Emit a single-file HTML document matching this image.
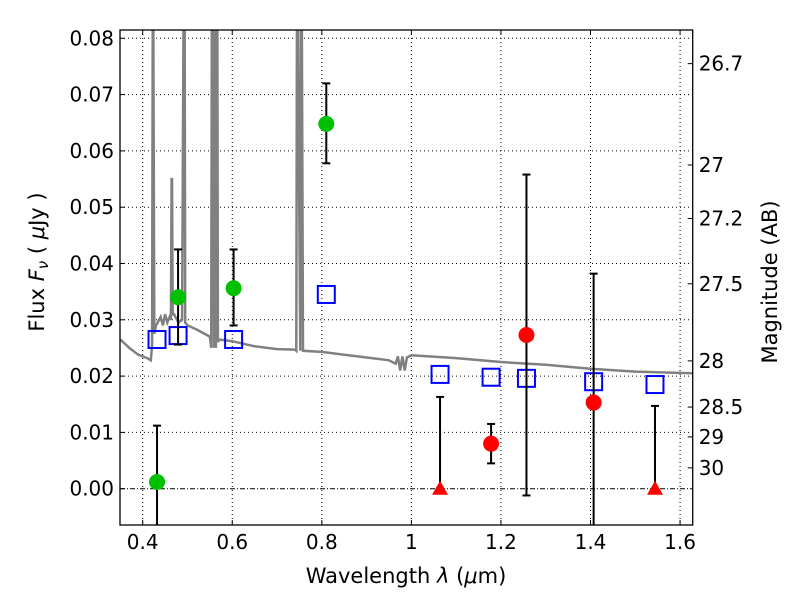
<!DOCTYPE html>
<html><head><meta charset="utf-8"><style>
body{margin:0;background:#fff}
svg{display:block;font-family:"DejaVu Sans","Liberation Sans",sans-serif}
</style></head><body>
<svg id="chart" width="800" height="600" viewBox="0 0 800 600">
<g id="grid"></g>
<g id="spec"></g>
<g id="marks"></g>
<g id="axes"></g>
</svg>
<script>
const xTicks=[0.4,0.6,0.8,1.0,1.2,1.4,1.6];
const xTickLabels=["0.4","0.6","0.8","1","1.2","1.4","1.6"];
const yTicks=[0,0.01,0.02,0.03,0.04,0.05,0.06,0.07,0.08];
const yTickLabels=["0.00","0.01","0.02","0.03","0.04","0.05","0.06","0.07","0.08"];
const magTicks=[26.7,27,27.2,27.5,28,28.5,29,30];
const magTickFlux=[0.0755,0.0575,0.048,0.0364,0.0227,0.0145,0.0092,0.0037];
const greenWl=[0.432,0.479,0.603,0.81];
const greenFlux=[0.0012,0.034,0.0356,0.0648];
const greenLo=[-0.01,0.0256,0.029,0.0578];
const greenHi=[0.0112,0.0425,0.0425,0.072];
const redWl=[1.178,1.257,1.407];
const redFlux=[0.008,0.0273,0.0153];
const redLo=[0.0045,-0.0012,-0.01];
const redHi=[0.0115,0.0558,0.0382];
const limWl=[1.064,1.544];
const limFlux=[0,0];
const limHi=[0.0163,0.0147];
const modelWl=[0.432,0.479,0.603,0.81,1.064,1.178,1.257,1.407,1.544];
const modelFlux=[0.0265,0.0272,0.0265,0.0345,0.0203,0.0198,0.0196,0.019,0.0185];
const specWl=[0.35,0.37,0.39,0.41,0.418,0.421,0.4225,0.423,0.4235,0.426,0.43,0.44,0.445,0.45,0.455,0.46,0.463,0.4645,0.4655,0.467,0.47,0.48,0.488,0.4915,0.4925,0.4935,0.495,0.5,0.52,0.55,0.553,0.5545,0.556,0.559,0.5605,0.562,0.5635,0.565,0.5665,0.568,0.57,0.6,0.65,0.7,0.74,0.743,0.7445,0.746,0.752,0.7535,0.755,0.758,0.8,0.85,0.9,0.95,0.965,0.97,0.975,0.98,0.985,0.99,1.0,1.1,1.2,1.3,1.4,1.5,1.63];
const specFlux=[0.0265,0.025,0.0238,0.0232,0.0228,0.0255,0.09,0.09,0.09,0.0275,0.029,0.0305,0.029,0.031,0.0295,0.0305,0.03,0.055,0.055,0.031,0.031,0.0295,0.03,0.09,0.09,0.09,0.0295,0.029,0.0283,0.027,0.025,0.09,0.09,0.025,0.09,0.09,0.025,0.09,0.09,0.026,0.0265,0.0262,0.0253,0.0248,0.0247,0.0245,0.09,0.09,0.0245,0.09,0.09,0.0245,0.0243,0.0238,0.0233,0.0228,0.0222,0.0235,0.021,0.0235,0.021,0.0233,0.0237,0.0232,0.0225,0.022,0.0213,0.0208,0.0205];
const L=120,R=692.7,T=30,B=525;
const X=v=>142.7+(v-0.4)*447.8;
const Y=v=>488.7-v*5630;
const NS="http://www.w3.org/2000/svg";
function mk(tag,attrs,parent,txt){const e=document.createElementNS(NS,tag);for(const k in attrs)e.setAttribute(k,attrs[k]);if(txt!==undefined)e.textContent=txt;parent.appendChild(e);return e;}
const grid=document.getElementById('grid'),spec=document.getElementById('spec'),marks=document.getElementById('marks'),axes=document.getElementById('axes');
mk('clipPath',{id:'clip'},document.getElementById('chart'));
mk('rect',{x:L,y:T,width:R-L,height:B-T},document.getElementById('clip'));
xTicks.forEach((t,i)=>{
  const l=mk('line',{x1:X(t),x2:X(t),y1:T,y2:B,stroke:'#000','stroke-width':1,'stroke-dasharray':'1,3'},grid);
  
  
  mk('line',{x1:X(t),x2:X(t),y1:B,y2:B-5,stroke:'#000'},axes);
  mk('line',{x1:X(t),x2:X(t),y1:T,y2:T+5,stroke:'#000'},axes);
  const tx=mk('text',{x:X(t),y:B+24,'font-size':20,'text-anchor':'middle'},axes,xTickLabels[i]);
  
  
});
yTicks.forEach((t,i)=>{
  const l=mk('line',{x1:L,x2:R,y1:Y(t),y2:Y(t),stroke:'#000','stroke-width':1,'stroke-dasharray':t===0?'5,2,1,2':'1,3'},grid);
  
  
  mk('line',{x1:L,x2:L+5,y1:Y(t),y2:Y(t),stroke:'#000'},axes);
  const tx=mk('text',{x:L-6,y:Y(t)+7,'font-size':20,'text-anchor':'end'},axes,yTickLabels[i]);
  
  
});
magTicks.forEach((m,i)=>{
  const y=Y(magTickFlux[i]);
  mk('line',{x1:R,x2:R-5,y1:y,y2:y,stroke:'#000'},axes);
  const tx=mk('text',{x:R+6,y:y+7,'font-size':20},axes,String(m));
  
  
});
const pts=specWl.map((w,i)=>X(w).toFixed(1)+','+Y(specFlux[i]).toFixed(1)).join(' ');
const pl=mk('polyline',{points:pts,fill:'none',stroke:'#808080','stroke-width':2.5,'clip-path':'url(#clip)'},spec);


function errbar(x,lo,hi){
  const g=mk('g',{'clip-path':'url(#clip)'},marks);
  
  
  mk('line',{x1:x,x2:x,y1:Y(lo),y2:Y(hi),stroke:'#000','stroke-width':2},g);
  mk('line',{x1:x-4,x2:x+4,y1:Y(hi),y2:Y(hi),stroke:'#000','stroke-width':2},g);
  mk('line',{x1:x-4,x2:x+4,y1:Y(lo),y2:Y(lo),stroke:'#000','stroke-width':2},g);
}
modelWl.forEach((w,i)=>{
  const r=mk('rect',{x:X(w)-8.5,y:Y(modelFlux[i])-8.5,width:17,height:17,fill:'none',stroke:'#0000ff','stroke-width':2},marks);
  
  
});
greenWl.forEach((w,i)=>{
  errbar(X(w),greenLo[i],greenHi[i]);
  const c=mk('circle',{cx:X(w),cy:Y(greenFlux[i]),r:8,fill:'#00c000'},marks);
  
  
});
redWl.forEach((w,i)=>{
  errbar(X(w),redLo[i],redHi[i]);
  const c=mk('circle',{cx:X(w),cy:Y(redFlux[i]),r:8,fill:'#ff0000'},marks);
  
  
});
limWl.forEach((w,i)=>{
  const x=X(w),y=Y(limFlux[i]);
  mk('line',{x1:x,x2:x,y1:y,y2:Y(limHi[i]),stroke:'#000','stroke-width':2},marks);
  mk('line',{x1:x-4,x2:x+4,y1:Y(limHi[i]),y2:Y(limHi[i]),stroke:'#000','stroke-width':2},marks);
  const p=mk('polygon',{points:`${x},${y-8} ${x-8},${y+6} ${x+8},${y+6}`,fill:'#ff0000'},marks);
  
  
});
const fr=mk('rect',{x:L,y:T,width:R-L,height:B-T,fill:'none',stroke:'#000','stroke-width':1.3},axes);


const xt=mk('text',{x:406,y:583,'font-size':21,'text-anchor':'middle'},axes);


mk('tspan',{},xt,'Wavelength  ');
mk('tspan',{'font-style':'italic'},xt,'λ');
mk('tspan',{},xt,' (');
mk('tspan',{'font-style':'italic'},xt,'μ');
mk('tspan',{},xt,'m)');
const yt=mk('text',{x:0,y:0,'font-size':21,'text-anchor':'middle',transform:'translate(44,262) rotate(-90)'},axes);


mk('tspan',{},yt,'Flux  ');
mk('tspan',{'font-style':'italic'},yt,'F');
mk('tspan',{'font-style':'italic','font-size':15,dy:4},yt,'ν');
mk('tspan',{dy:-4},yt,'  ( ');
mk('tspan',{'font-style':'italic'},yt,'μ');
mk('tspan',{},yt,'Jy )');
const rt=mk('text',{x:0,y:0,'font-size':21,'text-anchor':'middle',transform:'translate(777,282) rotate(-90)'},axes,'Magnitude (AB)');


</script>
</body></html>
